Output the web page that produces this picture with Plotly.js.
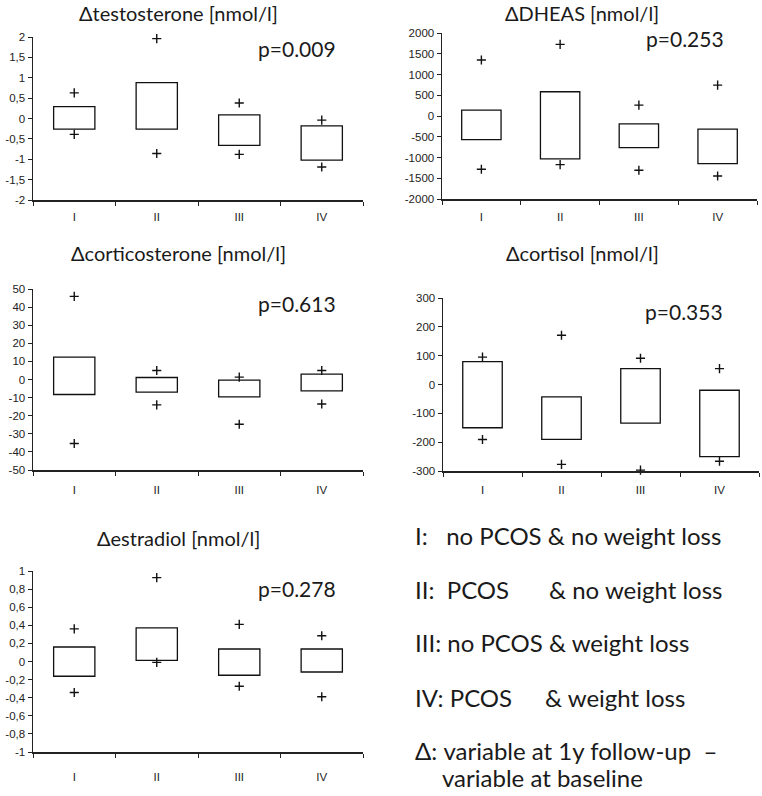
<!DOCTYPE html>
<html>
<head>
<meta charset="utf-8">
<script src="https://cdn.plot.ly/plotly-3.0.1.min.js"></script>
<style>
  body { margin: 0; background: #fff; }
  #plot { width: 762px; height: 796px; }
</style>
</head>
<body>
<div id="plot"></div>
<script>
// groups on the x axis
let groups = ['I', 'II', 'III', 'IV']

// box bottom / box top / upper + / lower + for each hormone
let testoLow = [-0.26, -0.26, -0.66, -1.02]
let testoHigh = [0.29, 0.88, 0.09, -0.18]
let testoPlusUp = [0.63, 1.96, 0.38, -0.04]
let testoPlusDown = [-0.39, -0.86, -0.88, -1.19]

let dheasLow = [-567, -1034, -760, -1147]
let dheasHigh = [141, 584, -189, -318]
let dheasPlusUp = [1348, 1726, 262, 744]
let dheasPlusDown = [-1284, -1171, -1308, -1445]

let corticoLow = [-8.3, -7.0, -9.6, -6.3]
let corticoHigh = [12.4, 1.1, -0.4, 3.0]
let corticoPlusUp = [45.9, 5.0, 1.3, 5.0]
let corticoPlusDown = [-35.4, -14.0, -24.7, -13.5]

let cortisolLow = [-150, -190, -134, -250]
let cortisolHigh = [79, -43, 55, -20]
let cortisolPlusUp = [95, 171, 91, 55]
let cortisolPlusDown = [-191, -277, -297, -266]

let estraLow = [-0.163, 0.013, -0.152, -0.116]
let estraHigh = [0.16, 0.372, 0.138, 0.138]
let estraPlusUp = [0.36, 0.927, 0.41, 0.284]
let estraPlusDown = [-0.343, -0.01, -0.273, -0.39]

// y tick values per panel
let testoTicks = [-2, -1.5, -1, -0.5, 0, 0.5, 1, 1.5, 2]
let dheasTicks = [-2000, -1500, -1000, -500, 0, 500, 1000, 1500, 2000]
let corticoTicks = [-50, -40, -30, -20, -10, 0, 10, 20, 30, 40, 50]
let cortisolTicks = [-300, -200, -100, 0, 100, 200, 300]
let estraTicks = [-1, -0.8, -0.6, -0.4, -0.2, 0, 0.2, 0.4, 0.6, 0.8, 1]

// panel titles and p values
let titles = ['\u0394testosterone [nmol/l]', '\u0394DHEAS [nmol/l]', '\u0394corticosterone [nmol/l]', '\u0394cortisol [nmol/l]', '\u0394estradiol [nmol/l]']
let pValues = ['p=0.009', 'p=0.253', 'p=0.613', 'p=0.353', 'p=0.278']

const W = 762, H = 796
let px = x => x / W
let py = y => 1 - y / H

let panels = [
    {low: testoLow, high: testoHigh, up: testoPlusUp, down: testoPlusDown, ticks: testoTicks},
    {low: dheasLow, high: dheasHigh, up: dheasPlusUp, down: dheasPlusDown, ticks: dheasTicks},
    {low: corticoLow, high: corticoHigh, up: corticoPlusUp, down: corticoPlusDown, ticks: corticoTicks},
    {low: cortisolLow, high: cortisolHigh, up: cortisolPlusUp, down: cortisolPlusDown, ticks: cortisolTicks},
    {low: estraLow, high: estraHigh, up: estraPlusUp, down: estraPlusDown, ticks: estraTicks}
]

// pixel boxes of each plot area: left, right, top, bottom
let boxes = [
    [33, 363, 37, 200],
    [442, 757, 33, 199],
    [33, 363, 289, 470],
    [443, 759, 298, 471],
    [33, 363, 571, 752]
]
// gap between x axis and its labels
let labelGap = [6, 7, 9, 8, 14]
// title and p-value positions (centre x, centre y)
let titlePos = [[178, 13], [582, 13], [178, 253], [582, 253], [178, 538]]
let pPos = [[297, 48], [685, 38], [297, 303], [684, 312], [297, 588]]

let data = []
let layout = {
    width: W,
    height: H,
    margin: {l: 0, r: 0, t: 0, b: 0},
    paper_bgcolor: '#fff',
    plot_bgcolor: '#fff',
    showlegend: false,
    hovermode: false,
    annotations: []
}

let tickFont = {family: 'Liberation Sans, Arial, sans-serif', size: 11.5, color: '#222'}
let textFont = {family: 'Lato, Open Sans, sans-serif', color: '#1a1a1a'}

panels.forEach((p, i) => {
    let n = i === 0 ? '' : String(i + 1)
    let xa = 'x' + n, ya = 'y' + n
    let b = boxes[i]

    data.push({
        type: 'bar',
        x: groups,
        base: p.low,
        y: p.high.map((h, k) => h - p.low[k]),
        width: 0.5,
        marker: {color: '#fff', line: {color: '#111', width: 1.3}},
        xaxis: xa, yaxis: ya
    })
    data.push({
        type: 'scatter',
        mode: 'markers',
        x: groups.concat(groups),
        y: p.up.concat(p.down),
        marker: {symbol: 'cross-thin', size: 6.5, line: {color: '#111', width: 1.4}},
        cliponaxis: false,
        xaxis: xa, yaxis: ya
    })

    layout['xaxis' + n] = {
        type: 'category',
        categoryorder: 'array',
        categoryarray: groups,
        range: [-0.5, 3.5],
        domain: [px(b[0]), px(b[1])],
        anchor: ya,
        showline: true,
        linecolor: '#222',
        linewidth: 1.5,
        ticks: 'outside',
        tickson: 'boundaries',
        ticklen: 4,
        tickcolor: '#222',
        ticklabelstandoff: labelGap[i],
        showgrid: false,
        zeroline: false,
        tickfont: tickFont,
        fixedrange: true
    }
    layout['yaxis' + n] = {
        range: [p.ticks[0], p.ticks[p.ticks.length - 1]],
        domain: [py(b[3]), py(b[2])],
        anchor: xa,
        tickmode: 'array',
        tickvals: p.ticks,
        ticktext: p.ticks.map(v => String(v).replace('.', ',')),
        showline: true,
        linecolor: '#222',
        linewidth: 1.5,
        ticks: 'outside',
        ticklen: 4,
        tickcolor: '#222',
        showgrid: false,
        zeroline: false,
        tickfont: tickFont,
        fixedrange: true
    }

    layout.annotations.push({
        xref: 'paper', yref: 'paper',
        x: px(titlePos[i][0]), y: py(titlePos[i][1]),
        xanchor: 'center', yanchor: 'middle',
        text: titles[i], showarrow: false,
        font: Object.assign({size: 20}, textFont)
    })
    layout.annotations.push({
        xref: 'paper', yref: 'paper',
        x: px(pPos[i][0]), y: py(pPos[i][1]),
        xanchor: 'center', yanchor: 'middle',
        text: pValues[i], showarrow: false,
        font: Object.assign({size: 21}, textFont)
    })
})

// group key at the bottom right
let keyLines = [
    ['I:\u00a0\u00a0\u00a0no PCOS & no weight loss', 413, 535],
    ['II:\u00a0\u00a0PCOS', 413, 589],
    ['& no weight loss', 547, 589],
    ['III: no PCOS & weight loss', 413, 642],
    ['IV: PCOS', 413, 697],
    ['& weight loss', 543, 697],
    ['\u0394: variable at 1y follow-up\u00a0\u00a0\u2013', 413, 750],
    ['variable at baseline', 440, 777]
]
keyLines.forEach(k => {
    layout.annotations.push({
        xref: 'paper', yref: 'paper',
        x: px(k[1]), y: py(k[2]),
        xanchor: 'left', yanchor: 'middle',
        text: k[0], showarrow: false,
        font: Object.assign({size: 24}, textFont)
    })
})

Plotly.newPlot('plot', data, layout, {staticPlot: true})
</script>
</body>
</html>
